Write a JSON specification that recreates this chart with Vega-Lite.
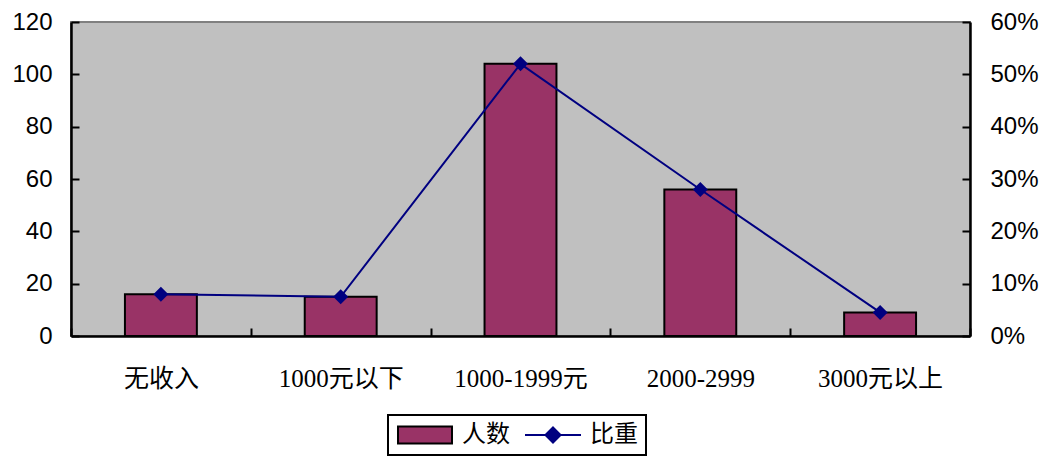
{
  "$schema": "https://vega.github.io/schema/vega-lite/v6.json",
  "width": 899,
  "height": 314,
  "autosize": {"type": "none"},
  "padding": {"left": 71, "top": 22, "right": 80, "bottom": 120},
  "background": "white",
  "view": {"fill": "#C0C0C0", "stroke": "#808080", "strokeWidth": 2},
  "config": {
    "view": {"fill": "#C0C0C0", "stroke": "#808080", "strokeWidth": 2},
    "axis": {
      "grid": false,
      "domainColor": "black",
      "domainWidth": 2.5,
      "tickColor": "black",
      "tickWidth": 2,
      "tickSize": -8,
      "labelColor": "black",
      "labelFont": "Liberation Sans",
      "labelFontSize": 24,
      "title": null
    },
    "legend": {
      "title": null,
      "padding": 8,
      "strokeColor": "black",
      "strokeWidth": 2,
      "fillColor": "white",
      "symbolSize": 3136,
      "clipHeight": 24,
      "symbolStrokeWidth": 2,
      "symbolOpacity": 1,
      "labelOffset": 8,
      "columnPadding": 14,
      "labelFont": "Noto Sans CJK SC",
      "labelFontSize": 24,
      "labelColor": "black"
    }
  },
  "data": {
    "values": [
      {"收入": "无收入", "人数": 16, "比重": 0.08},
      {"收入": "1000元以下", "人数": 15, "比重": 0.075},
      {"收入": "1000-1999元", "人数": 104, "比重": 0.52},
      {"收入": "2000-2999", "人数": 56, "比重": 0.28},
      {"收入": "3000元以上", "人数": 9, "比重": 0.045}
    ]
  },
  "layer": [
    {
      "mark": {"type": "bar", "fill": "#993366", "stroke": "black", "strokeWidth": 2, "width": {"band": 0.4}},
      "encoding": {
        "x": {
          "field": "收入",
          "type": "nominal",
          "sort": null,
          "scale": {"paddingInner": 0, "paddingOuter": 0},
          "axis": {
            "labelAngle": 0,
            "tickBand": "extent",
            "labelFont": "Liberation Serif, Noto Sans CJK SC",
            "labelFontSize": 25,
            "labelPadding": 38,
            "title": null
          }
        },
        "y": {
          "field": "人数",
          "type": "quantitative",
          "scale": {"domain": [0, 120], "nice": false},
          "axis": {"orient": "left", "values": [0, 20, 40, 60, 80, 100, 120], "labelPadding": 27}
        }
      }
    },
    {
      "mark": {
        "type": "line",
        "color": "#000080",
        "strokeWidth": 2,
        "point": {"shape": "diamond", "size": 225, "filled": true, "color": "#000080"}
      },
      "encoding": {
        "x": {"field": "收入", "type": "nominal", "sort": null},
        "y": {
          "field": "比重",
          "type": "quantitative",
          "scale": {"domain": [0, 0.6], "nice": false},
          "axis": {"orient": "right", "format": ".0%", "values": [0, 0.1, 0.2, 0.3, 0.4, 0.5, 0.6], "labelPadding": 28}
        }
      }
    },
    {
      "mark": {"type": "point", "filled": true, "opacity": 0},
      "encoding": {
        "fill": {
          "datum": "比重",
          "type": "nominal",
          "scale": {"domain": ["人数", "比重"], "range": ["#993366", "#000080"]},
          "legend": {"orient": "none", "legendX": 317, "legendY": 393, "direction": "horizontal"}
        },
        "stroke": {
          "datum": "比重",
          "type": "nominal",
          "scale": {"domain": ["人数", "比重"], "range": ["#000000", "#000080"]},
          "legend": {"orient": "none", "legendX": 317, "legendY": 393, "direction": "horizontal"}
        },
        "shape": {
          "datum": "比重",
          "type": "nominal",
          "scale": {
            "domain": ["人数", "比重"],
            "range": ["M-0.964,-0.3H0.964V0.3H-0.964Z", "M-1,0H1M0,-0.27L0.27,0L0,0.27L-0.27,0Z"]
          },
          "legend": {"orient": "none", "legendX": 317, "legendY": 393, "direction": "horizontal"}
        }
      }
    }
  ],
  "resolve": {"scale": {"y": "independent"}}
}
